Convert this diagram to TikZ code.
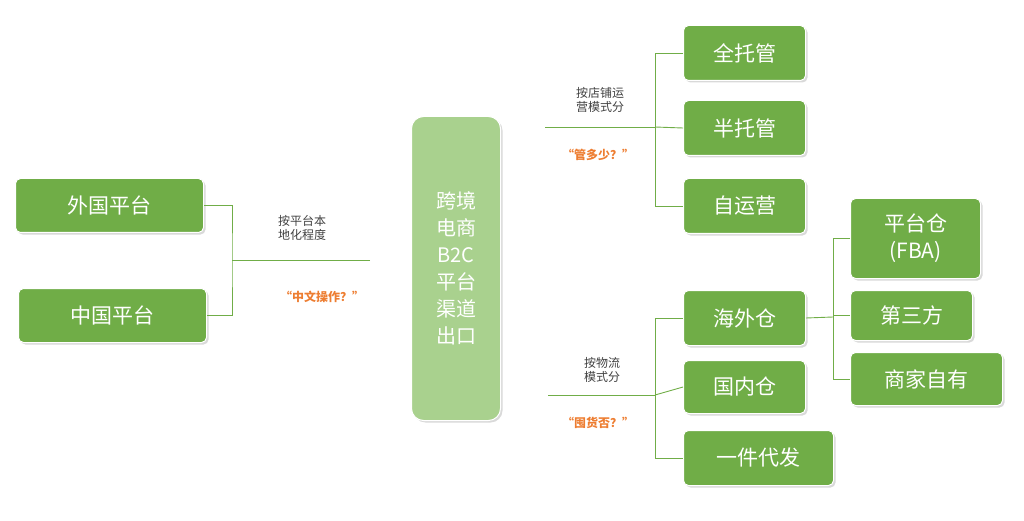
\documentclass[tikz,border=0pt]{standalone}
\usepackage{fontspec}
\setmainfont{Noto Sans CJK SC}
\usetikzlibrary{shadows}
\definecolor{leafgreen}{HTML}{70AD47}
\definecolor{rootgreen}{HTML}{A9D18E}
\definecolor{hintorange}{HTML}{ED7D31}
\tikzset{
  leaf/.style={draw=white, line width=1pt, fill=leafgreen, rounded corners=5pt,
    text=white, font=\fontsize{21}{24}\selectfont, anchor=north west,
    inner sep=0pt, drop shadow={opacity=0.3, shadow xshift=2pt, shadow yshift=-2pt}},
  link/.style={draw=leafgreen, line width=0.9pt},
  rule/.style={font=\fontsize{12}{14}\selectfont, text=black!75, align=center},
  hint/.style={font=\bfseries\fontsize{12}{14}\selectfont, text=hintorange}
}
\begin{document}
\begin{tikzpicture}[x=1pt, y=-1pt]
  \useasboundingbox (0,0) rectangle (1024,521);
  % root
  \node[leaf, fill=rootgreen, minimum width=89pt, minimum height=304pt, align=center,
    rounded corners=12pt, font=\fontsize{20}{27}\selectfont] (root) at (411,116)
    {跨境\\电商\\B2C\\平台\\渠道\\出口};
  % left branch
  \node[leaf, minimum width=188pt, minimum height=54pt] (foreign) at (15,178) {外国平台};
  \node[leaf, minimum width=188pt, minimum height=54pt] (china) at (18,288) {中国平台};
  \coordinate (lend) at (370,260);
  \coordinate (lfork) at (232,260);
  \draw[link] (lend) -- (lfork);
  \draw[link] (foreign.east) -| (lfork) |- (china.east);
  \node[rule] (lrule) at (302,228) {按平台本\\地化程度};
  \node[hint] (lhint) at (322,297) {“中文操作？”};
  % right top branch
  \node[leaf, minimum width=122pt, minimum height=55pt] (full) at (683,25) {全托管};
  \node[leaf, minimum width=122pt, minimum height=55pt] (half) at (683,100) {半托管};
  \node[leaf, minimum width=122pt, minimum height=55pt] (self) at (683,178) {自运营};
  \coordinate (tstart) at (545,127);
  \coordinate (tfork) at (655,127);
  \draw[link] (tstart) -- (tfork);
  \draw[link] (full.west) -| (tfork) |- (self.west);
  \draw[link] (tfork) -- (half.west);
  \node[rule] (trule) at (600,100) {按店铺运\\营模式分};
  \node[hint] (thint) at (598,155) {“管多少？”};
  % right bottom branch
  \node[leaf, minimum width=122pt, minimum height=55pt] (oversea) at (683,290) {海外仓};
  \node[leaf, minimum width=122pt, minimum height=53pt] (home) at (683,360) {国内仓};
  \node[leaf, minimum width=150pt, minimum height=55pt] (drop) at (683,430) {一件代发};
  \coordinate (bstart) at (548,395);
  \coordinate (bfork) at (655,395);
  \draw[link] (bstart) -- (bfork);
  \draw[link] (oversea.west) -| (bfork) |- (drop.west);
  \draw[link] (bfork) -- (home.west);
  \node[rule] (brule) at (602,370) {按物流\\模式分};
  \node[hint] (bhint) at (598,423) {“囤货否？”};
  % warehouse sub-branch
  \node[leaf, minimum width=130pt, minimum height=80pt, align=center,
    font=\fontsize{21}{27}\selectfont] (fba) at (850,198) {平台仓\\(FBA)};
  \node[leaf, minimum width=122pt, minimum height=50pt] (third) at (850,290) {第三方};
  \node[leaf, minimum width=152pt, minimum height=53pt] (own) at (850,352) {商家自有};
  \coordinate (wfork) at (833,317);
  \draw[link] (oversea.east) -- (wfork);
  \draw[link] (fba.west) -| (wfork) |- (own.west);
  \draw[link] (wfork |- third.west) -- (third.west);
\end{tikzpicture}
\end{document}
